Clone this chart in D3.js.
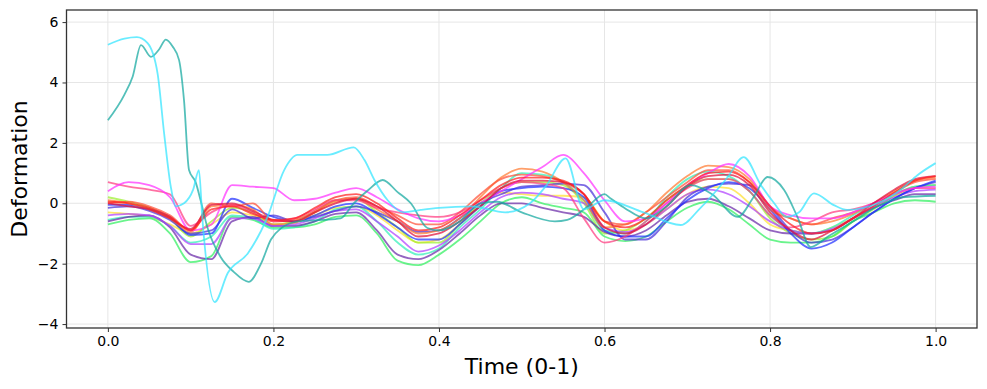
<!DOCTYPE html>
<html>
<head>
<meta charset="utf-8">
<script src="https://cdn.jsdelivr.net/npm/d3@7"></script>
<style>
body { margin: 0; background: #fff; }
svg { display: block; font-family: "DejaVu Sans", sans-serif; }
</style>
</head>
<body>
<div class="svg"></div>
<script>
// sample times shared by the cluster curves
var times = [0, 0.025, 0.05, 0.075, 0.1, 0.125, 0.15, 0.175, 0.2, 0.225, 0.25, 0.275, 0.3, 0.325, 0.35, 0.375, 0.4,
	0.425, 0.45, 0.475, 0.5, 0.525, 0.55, 0.575, 0.6, 0.625, 0.65, 0.675, 0.7, 0.725, 0.75, 0.775, 0.8, 0.825, 0.85,
	0.875, 0.9, 0.925, 0.95, 0.975, 1.0];

var red = [0.05, 0.0, -0.15, -0.45, -0.9, -0.2, -0.1, -0.35, -0.55, -0.5, -0.15, 0.2, 0.3, 0.0, -0.5, -0.9, -0.8, -0.4, 0.1, 0.6, 0.85,
	0.85, 0.75, 0.3, -0.6, -0.8, -0.5, 0.1, 0.6, 1.0, 1.05, 0.7, -0.1, -0.7, -1.0, -0.9, -0.5, -0.1, 0.35, 0.75, 0.9];
var orange = [0.1, 0.0, -0.2, -0.5, -0.95, -0.1, -0.05, -0.2, -0.7, -0.65, -0.3, 0.05, 0.15, -0.2, -0.6, -1.0, -0.9, -0.5, 0.2, 0.85, 1.15,
	1.05, 0.7, 0.1, -0.8, -0.7, -0.3, 0.35, 0.9, 1.25, 1.2, 0.8, -0.1, -0.5, -0.7, -0.6, -0.35, 0.0, 0.4, 0.75, 0.85];
var yellow = [-0.3, -0.35, -0.45, -0.7, -1.0, -0.7, -0.3, -0.4, -0.6, -0.6, -0.4, -0.15, -0.1, -0.4, -0.9, -1.3, -1.2, -0.7, -0.1, 0.35, 0.3,
	0.25, 0.25, 0.2, -0.6, -0.9, -0.7, -0.2, 0.3, 0.55, 0.5, 0.0, -0.7, -0.9, -1.0, -0.8, -0.5, -0.15, 0.25, 0.5, 0.6];
var lime = [0.2, 0.05, -0.15, -0.5, -1.1, -0.6, -0.15, -0.3, -0.7, -0.6, -0.3, 0.1, 0.15, -0.3, -0.8, -1.3, -1.3, -0.7, 0.0, 0.5, 0.7,
	0.7, 0.6, 0.0, -1.0, -0.9, -0.5, 0.1, 0.55, 0.8, 0.8, 0.4, -0.5, -1.0, -1.2, -1.1, -0.6, -0.2, 0.25, 0.55, 0.6];
var green = [-0.7, -0.55, -0.5, -1.0, -1.95, -1.75, -0.45, -0.55, -0.8, -0.8, -0.7, -0.45, -0.4, -1.0, -1.9, -2.05, -1.7, -1.2, -0.6, 0.0, 0.2,
	0.0, -0.15, -0.3, -1.1, -1.25, -1.1, -0.6, -0.15, 0.05, -0.2, -0.7, -1.2, -1.3, -1.3, -1.1, -0.6, -0.3, 0.0, 0.1, 0.05];
var mint = [-0.55, -0.45, -0.45, -0.75, -1.3, -1.1, -0.4, -0.5, -0.85, -0.8, -0.6, -0.2, -0.1, -0.6, -1.3, -1.7, -1.5, -0.8, -0.2, 0.5, 1.0,
	0.95, 0.7, 0.1, -0.9, -1.0, -0.6, 0.2, 0.8, 1.05, 0.9, 0.4, -0.4, -0.9, -1.0, -0.8, -0.4, 0.0, 0.3, 0.55, 0.6];
var blue = [-0.05, -0.05, -0.2, -0.45, -1.05, -1.0, 0.15, -0.15, -0.45, -0.6, -0.4, -0.1, 0.0, -0.35, -0.8, -1.2, -1.2, -0.7, -0.1, 0.4, 0.5,
	0.55, 0.5, 0.2, -0.9, -1.1, -1.1, -0.5, 0.1, 0.5, 0.7, 0.5, -0.2, -1.0, -1.5, -1.3, -0.8, -0.3, 0.15, 0.5, 0.75];
var slate = [-0.15, -0.1, -0.25, -0.55, -1.0, -0.9, -0.2, -0.5, -0.4, -0.6, -0.45, -0.25, -0.1, -0.3, -0.6, -0.95, -0.9, -0.5, 0.0, 0.3, 0.55,
	0.6, 0.65, 0.6, -0.3, -1.2, -1.2, -0.6, 0.2, 0.55, 0.65, 0.6, -0.1, -0.9, -1.3, -1.2, -0.8, -0.3, 0.15, 0.5, 0.7];
var purple = [-0.6, -0.45, -0.4, -0.8, -1.7, -1.85, -0.6, -0.45, -0.75, -0.75, -0.6, -0.35, -0.3, -0.9, -1.7, -1.85, -1.55, -1.0, -0.4, 0.0, 0.0,
	-0.15, -0.3, -0.45, -0.95, -1.1, -0.9, -0.4, 0.05, 0.15, -0.1, -0.5, -0.9, -1.0, -1.0, -0.9, -0.5, -0.15, 0.1, 0.3, 0.3];
var violet = [-0.4, -0.35, -0.4, -0.75, -1.35, -1.35, -0.5, -0.5, -0.75, -0.7, -0.5, -0.25, -0.2, -0.6, -1.1, -1.6, -1.4, -0.9, -0.3, 0.2, 0.35,
	0.3, 0.15, 0.0, -0.8, -0.95, -0.7, -0.2, 0.3, 0.45, 0.3, -0.1, -0.6, -0.9, -1.0, -0.85, -0.5, -0.1, 0.2, 0.4, 0.45];
var magenta = [0.4, 0.7, 0.6, 0.2, -0.9, -0.7, 0.6, 0.55, 0.5, 0.1, 0.15, 0.35, 0.5, 0.2, -0.2, -0.5, -0.6, -0.4, 0.0, 0.4, 0.8,
	1.2, 1.6, 1.0, 0.1, -0.6, -0.5, 0.0, 0.6, 1.0, 1.3, 0.9, -0.1, -0.4, -0.5, -0.5, -0.3, 0.0, 0.3, 0.5, 0.55];
var pink = [0.7, 0.55, 0.45, 0.3, -0.75, -0.3, -0.05, -0.3, -0.6, -0.5, -0.2, 0.1, 0.1, -0.15, -0.3, -0.4, -0.45, -0.3, 0.1, 0.5, 0.7,
	0.65, 0.5, -0.5, -1.3, -1.1, -0.6, 0.0, 0.5, 0.8, 0.8, 0.4, -0.4, -0.8, -0.6, -0.3, -0.2, 0.0, 0.3, 0.5, 0.5];
var crimson = [0.0, -0.1, -0.2, -0.5, -0.85, -0.05, 0.0, -0.25, -0.55, -0.6, -0.3, 0.0, 0.15, -0.1, -0.6, -1.1, -1.0, -0.6, -0.1, 0.5, 0.75,
	0.75, 0.7, 0.3, -0.8, -1.0, -0.7, -0.1, 0.55, 0.9, 0.95, 0.6, -0.3, -0.9, -1.2, -0.9, -0.5, 0.0, 0.45, 0.8, 0.9];
var coral = [0.0, 0.05, -0.1, -0.4, -0.9, 0.0, -0.1, 0.0, -0.6, -0.55, -0.25, 0.1, 0.2, -0.1, -0.4, -0.7, -0.7, -0.3, 0.3, 0.8, 0.95,
	0.9, 0.7, 0.3, -0.6, -0.7, -0.3, 0.2, 0.7, 1.1, 1.1, 0.7, -0.2, -0.5, -0.7, -0.5, -0.3, 0.0, 0.35, 0.7, 0.8];

// the two outliers have their own sample times
var cyanT = [0, 0.02, 0.035, 0.048, 0.06, 0.068, 0.076, 0.082, 0.092, 0.103, 0.11, 0.114, 0.129, 0.145, 0.169, 0.193, 0.213, 0.229,
	0.265, 0.297, 0.31, 0.322, 0.338, 0.357, 0.378, 0.4, 0.44, 0.48, 0.51, 0.53, 0.553, 0.575, 0.6, 0.647, 0.692, 0.716, 0.749,
	0.768, 0.789, 0.805, 0.82, 0.835, 0.853, 0.877, 0.893, 0.93, 0.96, 0.978, 1.0];
var cyanY = [5.25, 5.45, 5.5, 5.3, 4.3, 2.3, 0.55, -0.1, 0.0, 0.45, 1.1, -0.45, -3.27, -2.3, -1.66, -0.44, 1.1, 1.6,
	1.6, 1.85, 1.43, 0.77, 0.1, -0.3, -0.22, -0.15, -0.1, -0.3, 0.0, 0.6, 1.49, -0.2, 0.1, -0.3, -0.72, -0.15, 0.87,
	1.53, 0.6, 0.0, -0.45, -0.3, 0.33, -0.06, -0.22, 0.0, 0.5, 0.93, 1.33];
var tealT = [0, 0.02, 0.03, 0.04, 0.052, 0.062, 0.07, 0.078, 0.086, 0.092, 0.098, 0.106, 0.112, 0.12, 0.136, 0.152, 0.17, 0.185,
	0.197, 0.209, 0.23, 0.26, 0.281, 0.297, 0.315, 0.332, 0.35, 0.366, 0.386, 0.4, 0.425, 0.45, 0.47, 0.5, 0.54, 0.555, 0.58,
	0.6, 0.607, 0.625, 0.65, 0.675, 0.704, 0.73, 0.761, 0.78, 0.797, 0.817, 0.833, 0.849, 0.87, 0.9, 0.93, 0.96, 1.0];
var tealY = [2.75, 3.6, 4.2, 5.24, 4.85, 5.1, 5.42, 5.2, 4.74, 3.4, 1.1, 0.7, 0.1, -0.78, -1.77, -2.27, -2.6, -2.0,
	-1.2, -0.83, -0.6, -0.55, -0.5, 0.0, 0.45, 0.77, 0.37, 0.0, -0.82, -0.9, -0.6, 0.0, 0.05, -0.3, -0.6, -0.55, -0.1,
	0.3, 0.17, -0.17, -0.5, -0.1, 0.6, 0.3, -0.45, 0.2, 0.87, 0.44, -0.45, -1.45, -1.1, -0.6, -0.1, 0.2, 0.25];

var xTicks = [0, 0.2, 0.4, 0.6, 0.8, 1.0];
var yTicks = [-4, -2, 0, 2, 4, 6];

var series = [
	{t: times, y: yellow, color: "#ffe030"},
	{t: times, y: lime, color: "#9cf030"},
	{t: times, y: green, color: "#30f060"},
	{t: times, y: mint, color: "#30f0b8"},
	{t: times, y: purple, color: "#6a2aa8"},
	{t: times, y: violet, color: "#b040ff"},
	{t: times, y: slate, color: "#4a30d8"},
	{t: times, y: blue, color: "#2030ff"},
	{t: times, y: orange, color: "#ff7a30"},
	{t: times, y: coral, color: "#ff5038"},
	{t: times, y: pink, color: "#ff3a80"},
	{t: times, y: magenta, color: "#ff30ff"},
	{t: times, y: crimson, color: "#e0103c"},
	{t: times, y: red, color: "#ff2020"},
	{t: tealT, y: tealY, color: "#12a8a0"},
	{t: cyanT, y: cyanY, color: "#30e4ff"}
];

var W = 987, H = 389;
var margin = {top: 10, right: 10, bottom: 61, left: 66.5};

var svg = d3.select("div.svg").append("svg")
	.attr("width", W)
	.attr("height", H);

var x = d3.scaleLinear()
	.domain([-0.05, 1.05])
	.range([margin.left, W - margin.right]);

var y = d3.scaleLinear()
	.domain([-4.13, 6.4])
	.range([H - margin.bottom, margin.top]);

// grid
svg.append("g").selectAll("line.gx")
	.data(xTicks).enter().append("line")
	.attr("x1", d => x(d)).attr("x2", d => x(d))
	.attr("y1", margin.top).attr("y2", H - margin.bottom)
	.attr("stroke", "#e6e6e6").attr("stroke-width", 1);
svg.append("g").selectAll("line.gy")
	.data(yTicks).enter().append("line")
	.attr("x1", margin.left).attr("x2", W - margin.right)
	.attr("y1", d => y(d)).attr("y2", d => y(d))
	.attr("stroke", "#e6e6e6").attr("stroke-width", 1);

var line = d3.line()
	.x(d => x(d[0]))
	.y(d => y(d[1]))
	.curve(d3.curveMonotoneX);

svg.append("g").selectAll("path")
	.data(series).enter().append("path")
	.attr("d", s => line(s.t.map((t, i) => [t, s.y[i]])))
	.attr("fill", "none")
	.attr("stroke", s => s.color)
	.attr("stroke-opacity", 0.72)
	.attr("stroke-width", 1.8)
	.attr("stroke-linejoin", "round");

// spines
svg.append("rect")
	.attr("x", margin.left).attr("y", margin.top)
	.attr("width", W - margin.right - margin.left)
	.attr("height", H - margin.bottom - margin.top)
	.attr("fill", "none").attr("stroke", "#333").attr("stroke-width", 1.3);

var xAxis = d3.axisBottom(x).tickValues(xTicks).tickFormat(d3.format(".1f")).tickSize(4).tickPadding(4);
var yAxis = d3.axisLeft(y).tickValues(yTicks).tickFormat(d3.format("d")).tickSize(4).tickPadding(4);

var gx = svg.append("g")
	.attr("transform", `translate(0,${H - margin.bottom})`)
	.call(xAxis);
var gy = svg.append("g")
	.attr("transform", `translate(${margin.left},0)`)
	.call(yAxis);

[gx, gy].forEach(function(g) {
	g.select(".domain").remove();
	g.selectAll(".tick line").attr("stroke", "#333").attr("stroke-width", 1);
	g.selectAll(".tick text").attr("fill", "#000").style("font-size", "14px").style("font-family", "DejaVu Sans");
});

svg.append("text")
	.attr("x", (margin.left + W - margin.right) / 2)
	.attr("y", 374)
	.attr("text-anchor", "middle")
	.style("font-size", "22px")
	.text("Time (0-1)");

svg.append("text")
	.attr("transform", `translate(27,${(margin.top + H - margin.bottom) / 2}) rotate(-90)`)
	.attr("text-anchor", "middle")
	.style("font-size", "22px")
	.text("Deformation");
</script>
</body>
</html>
